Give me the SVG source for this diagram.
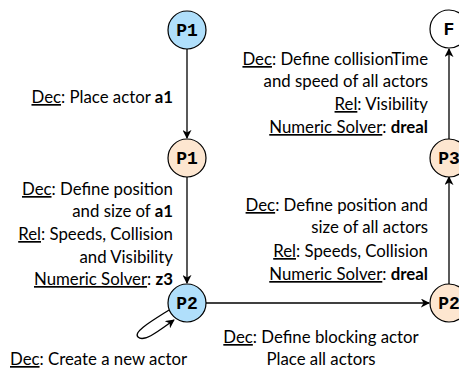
<svg xmlns="http://www.w3.org/2000/svg" width="459" height="369" viewBox="0 0 459 369">
<style>
.n{stroke:#000;stroke-width:1.2}
.blue{fill:#b0dffb}
.or{fill:#fde6d0}
.wh{fill:#fff}
.nl{font-family:"Liberation Mono","Courier New",monospace;font-weight:bold;font-size:18px;text-anchor:middle;fill:#000}
.e{stroke:#000;stroke-width:1.3;fill:none}
.t{font-family:Lato,"Liberation Sans",sans-serif;font-size:16.8px;fill:#000}
.r{text-anchor:end}
.m{text-anchor:middle}
.u{text-decoration:underline}
.b{font-weight:bold}
</style>
<defs>
<marker id="ah" viewBox="0 0 10 10" refX="9" refY="5" markerWidth="9" markerHeight="9" markerUnits="userSpaceOnUse" orient="auto">
<path d="M0,0 L10,5 L0,10 L3,5 z" fill="#000"/>
</marker>
</defs>
<g id="connectors">
<line class="e" x1="187" y1="49" x2="187" y2="138" marker-end="url(#ah)"/>
<line class="e" x1="187" y1="177" x2="187" y2="283" marker-end="url(#ah)"/>
<line class="e" x1="206" y1="303" x2="429" y2="303" marker-end="url(#ah)"/>
<line class="e" x1="449" y1="284" x2="449" y2="177" marker-end="url(#ah)"/>
<line class="e" x1="449" y1="139" x2="449" y2="49" marker-end="url(#ah)"/>
<path class="e" d="M169,310 C150,322 133,332 138,337 C144,343 160,330 174,320" marker-end="url(#ah)"/>
</g>
<g id="n1"><circle class="n blue" cx="187" cy="30" r="19"/><text class="nl" x="187" y="36">P1</text></g>
<g id="n2"><circle class="n or" cx="187" cy="158" r="19"/><text class="nl" x="187" y="164">P1</text></g>
<g id="n3"><circle class="n blue" cx="187" cy="303" r="19"/><text class="nl" x="187" y="309">P2</text></g>
<g id="n4"><circle class="n or" cx="449" cy="303" r="19"/><text class="nl" x="449" y="309">P2</text></g>
<g id="n5"><circle class="n or" cx="449" cy="158" r="19"/><text class="nl" x="449" y="164">P3</text></g>
<g id="n6"><circle class="n wh" cx="449" cy="29" r="19"/><text class="nl" x="449" y="35">F</text></g>
<g id="labels">
<text class="t r" x="173" y="103"><tspan class="u">Dec</tspan>: Place actor <tspan class="b">a1</tspan></text>
<text class="t r" x="173" y="195"><tspan class="u">Dec</tspan>: Define position</text>
<text class="t r" x="173" y="217">and size of <tspan class="b">a1</tspan></text>
<text class="t r" x="173" y="240"><tspan class="u">Rel</tspan>: Speeds, Collision</text>
<text class="t r" x="173" y="263">and Visibility</text>
<text class="t r" x="173" y="285"><tspan class="u">Numeric Solver</tspan>: <tspan class="b">z3</tspan></text>
<text class="t" x="10" y="365"><tspan class="u">Dec</tspan>: Create a new actor</text>
<text class="t m" x="321" y="343"><tspan class="u">Dec</tspan>: Define blocking actor</text>
<text class="t m" x="321" y="365">Place all actors</text>
<text class="t r" x="428" y="211"><tspan class="u">Dec</tspan>: Define position and</text>
<text class="t r" x="428" y="233">size of all actors</text>
<text class="t r" x="428" y="257"><tspan class="u">Rel</tspan>: Speeds, Collision</text>
<text class="t r" x="428" y="280"><tspan class="u">Numeric Solver</tspan>: <tspan class="b">dreal</tspan></text>
<text class="t r" x="428" y="65"><tspan class="u">Dec</tspan>: Define collisionTime</text>
<text class="t r" x="428" y="87">and speed of all actors</text>
<text class="t r" x="428" y="110"><tspan class="u">Rel</tspan>: Visibility</text>
<text class="t r" x="428" y="133"><tspan class="u">Numeric Solver</tspan>: <tspan class="b">dreal</tspan></text>
</g>
</svg>
